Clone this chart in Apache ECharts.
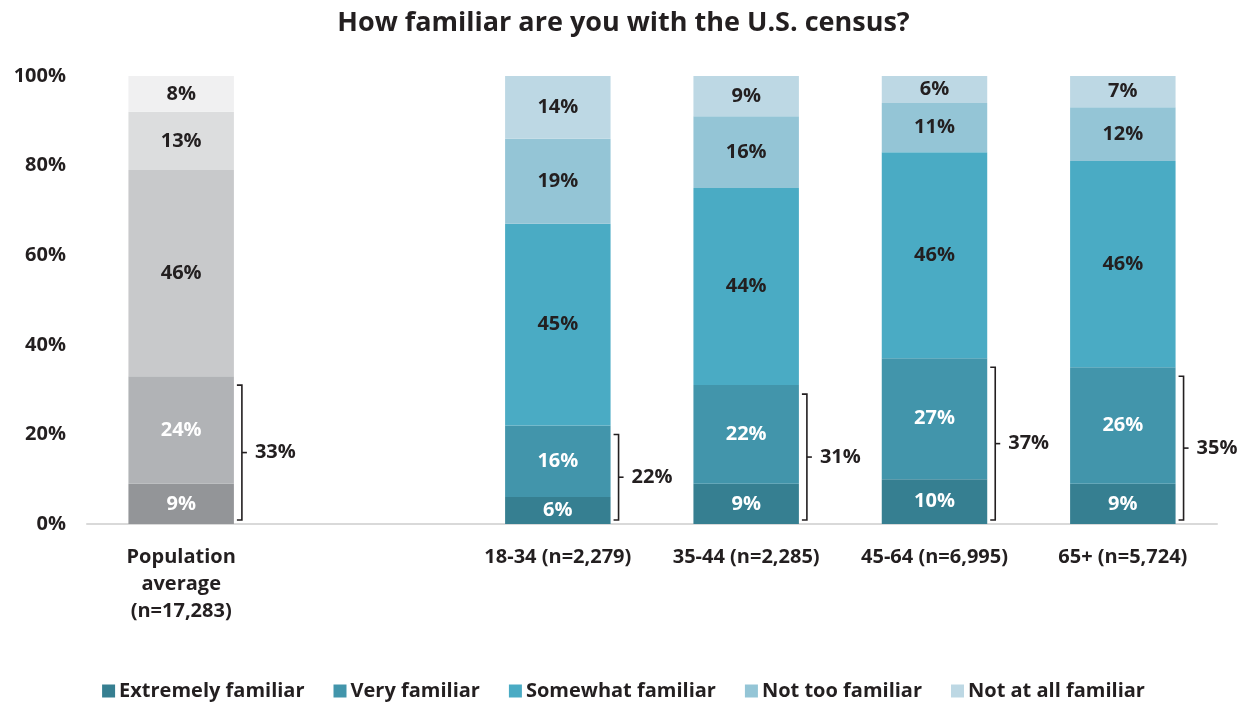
<!DOCTYPE html>
<html>
<head>
<meta charset="utf-8">
<script src="https://cdn.jsdelivr.net/npm/echarts@6/dist/echarts.min.js"></script>
<style>
  html, body { margin: 0; padding: 0; background: #fff; }
  #chart { width: 1247px; height: 704px; }
</style>
</head>
<body>
<div id="chart"></div>
<script>
// categories (the empty one is the gap after the population average)
var categories = ['Population\naverage\n(n=17,283)', '', '18-34 (n=2,279)', '35-44 (n=2,285)', '45-64 (n=6,995)', '65+ (n=5,724)'];

var seriesNames = ['Extremely familiar', 'Very familiar', 'Somewhat familiar', 'Not too familiar', 'Not at all familiar'];

var extremely = [9, null, 6, 9, 10, 9];
var very      = [24, null, 16, 22, 27, 26];
var somewhat  = [46, null, 45, 44, 46, 46];
var notToo    = [13, null, 19, 16, 11, 12];
var notAtAll  = [8, null, 14, 9, 6, 7];

// extremely + very, shown with the brackets
var topTwo = [33, null, 22, 31, 37, 35];

var yTicks = [0, 20, 40, 60, 80, 100];

var tealColors = ['#367f91', '#4295ab', '#4aabc4', '#94c5d6', '#bdd8e4'];
var greyColors = ['#939598', '#b1b3b6', '#c8c9cb', '#dcddde', '#f0f0f1'];
var labelColors = ['#ffffff', '#ffffff', '#231f20', '#231f20', '#231f20'];

var font = '"Open Sans", Lato, sans-serif';
var fs = 20;

var chart = echarts.init(document.getElementById('chart'));

var allData = [extremely, very, somewhat, notToo, notAtAll];

var barSeries = allData.map(function (vals, s) {
    return {
        name: seriesNames[s],
        type: 'bar',
        stack: 'total',
        barWidth: '56%',
        itemStyle: { color: tealColors[s] },
        label: {
            show: true,
            position: 'inside',
            formatter: function (p) { return p.value == null ? '' : p.value + '%'; },
            color: labelColors[s],
            fontFamily: font,
            fontWeight: 'bold',
            fontSize: fs
        },
        data: vals.map(function (v, i) {
            if (i === 0) return { value: v, itemStyle: { color: greyColors[s] } };
            return v;
        })
    };
});

var bracketSeries = {
    type: 'custom',
    silent: true,
    z: 5,
    renderItem: function (params, api) {
        var idx = api.value(0);
        var total = api.value(1);
        if (isNaN(total)) return;
        var band = api.size([1, 0])[0];
        var base = api.coord([idx, 0]);
        var top = api.coord([idx, total]);
        var x = base[0] + band * 0.28 + 8;
        var y1 = top[1] + 9;
        var y2 = base[1] - 4;
        var ym = (y1 + y2) / 2;
        var st = { stroke: '#231f20', lineWidth: 1.6, fill: null };
        return {
            type: 'group',
            children: [
                { type: 'polyline', shape: { points: [[x - 5, y1], [x, y1], [x, y2], [x - 5, y2]] }, style: st },
                { type: 'line', shape: { x1: x, y1: ym, x2: x + 5, y2: ym }, style: st },
                {
                    type: 'text',
                    style: {
                        x: x + 13, y: ym,
                        text: total + '%',
                        fill: '#231f20',
                        font: 'bold ' + fs + 'px ' + font,
                        verticalAlign: 'middle',
                        align: 'left'
                    }
                }
            ]
        };
    },
    data: topTwo.map(function (v, i) { return [i, v == null ? NaN : v]; })
};

var option = {
    animation: false,
    title: {
        text: 'How familiar are you with the U.S. census?',
        left: 'center',
        top: 5,
        textStyle: { fontFamily: font, fontWeight: 'bold', fontSize: 27, color: '#231f20' }
    },
    legend: {
        data: seriesNames,
        bottom: -2,
        left: 'center',
        itemWidth: 13,
        itemHeight: 13,
        itemGap: 29,
        icon: 'rect',
        textStyle: { fontFamily: font, fontWeight: 'bold', fontSize: fs, color: '#231f20', padding: [0, 0, 0, -1] }
    },
    grid: { left: 87, right: 30, top: 76, bottom: 180 },
    xAxis: {
        type: 'category',
        data: categories,
        axisLine: { lineStyle: { color: '#d9d9d9', width: 2 } },
        axisTick: { show: false },
        axisLabel: {
            interval: 0,
            margin: 20,
            fontFamily: font,
            fontWeight: 'bold',
            fontSize: fs,
            lineHeight: 27,
            color: '#231f20'
        }
    },
    yAxis: {
        type: 'value',
        min: 0,
        max: 100,
        interval: 20,
        splitLine: { show: false },
        axisLine: { show: false },
        axisTick: { show: false },
        axisLabel: {
            margin: 21,
            formatter: function (v) { return yTicks.indexOf(v) >= 0 ? v + '%' : ''; },
            fontFamily: font,
            fontWeight: 'bold',
            fontSize: fs,
            color: '#231f20'
        }
    },
    series: barSeries.concat([bracketSeries])
};

chart.setOption(option);
</script>
</body>
</html>
